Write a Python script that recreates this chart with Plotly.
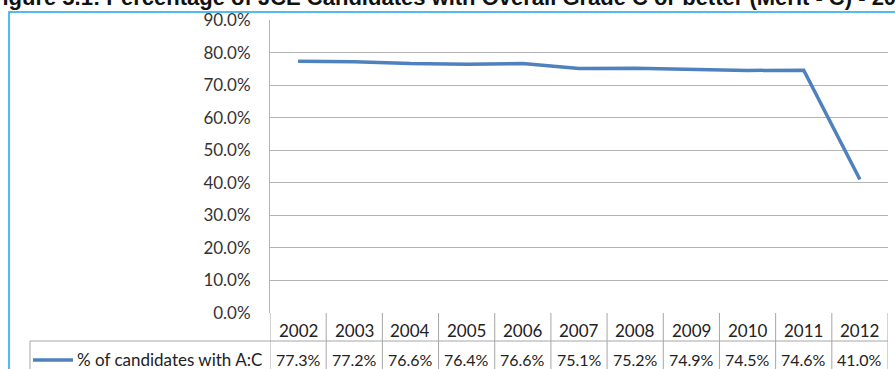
import plotly.graph_objects as go

years = ["2002", "2003", "2004", "2005", "2006", "2007", "2008", "2009", "2010", "2011", "2012"]
pct_values = [77.3, 77.2, 76.6, 76.4, 76.6, 75.1, 75.2, 74.9, 74.5, 74.6, 41.0]
series_name = "% of candidates with A:C"
title_text = "Figure 5.1: Percentage of JCE Candidates with Overall Grade C or better (Merit - C) - 2002-2012"

W, H = 895, 369
L, R, T, B = 270, 888, 20, 313
pw, ph = R - L, B - T

def px(x):
    return (x - L) / pw

def py(y):
    return (B - y) / ph

FONT = "Lato"
FS = 17
GRID = "#B4B4B4"
TBL = "#A6A6A6"
LINE = "#4F81BD"
n = len(years)

fig = go.Figure()
fig.add_trace(go.Scatter(
    x=list(range(n)), y=[v / 100 for v in pct_values], mode="lines",
    line=dict(color=LINE, width=3.5), name=series_name, showlegend=False,
))

shapes = []
for i in range(n + 1):
    shapes.append(dict(type="line", xref="x", yref="paper", x0=i - 0.5, x1=i - 0.5,
                       y0=0, y1=py(380), line=dict(color=TBL, width=1)))
shapes.append(dict(type="line", xref="paper", yref="paper", x0=px(30), x1=1,
                   y0=py(341), y1=py(341), line=dict(color=TBL, width=1)))
shapes.append(dict(type="line", xref="paper", yref="paper", x0=px(30), x1=px(30),
                   y0=py(341), y1=py(380), line=dict(color=TBL, width=1)))
shapes.append(dict(type="line", xref="paper", yref="paper", x0=px(33), x1=px(73),
                   y0=py(360), y1=py(360), line=dict(color=LINE, width=3.5)))
shapes.append(dict(type="rect", xref="paper", yref="paper", x0=px(9), x1=px(920),
                   y0=py(400), y1=py(12), line=dict(color="#1AA7EC", width=1.5),
                   fillcolor="rgba(0,0,0,0)", layer="below"))

annotations = []
for i, (yr, v) in enumerate(zip(years, pct_values)):
    annotations.append(dict(x=i, y=py(330), xref="x", yref="paper", text=yr,
                            showarrow=False, font=dict(family=FONT, size=FS, color="#222"),
                            xanchor="center", yanchor="middle"))
    annotations.append(dict(x=i, y=py(359), xref="x", yref="paper", text=f"{v:.1f}%",
                            showarrow=False, font=dict(family=FONT, size=16, color="#222"),
                            xanchor="center", yanchor="middle"))
annotations.append(dict(x=px(75), y=py(359), xref="paper", yref="paper", text=series_name,
                        showarrow=False, font=dict(family=FONT, size=FS, color="#222"),
                        xanchor="left", yanchor="middle"))
annotations.append(dict(x=px(-13), y=py(12), xref="paper", yref="paper", text="<b>" + title_text + "</b>",
                        showarrow=False, font=dict(family="Liberation Sans", size=22, color="#111"),
                        xanchor="left", yanchor="bottom"))

fig.update_layout(
    width=W, height=H,
    margin=dict(l=L, r=W - R, t=T, b=H - B),
    paper_bgcolor="white", plot_bgcolor="white",
    shapes=shapes, annotations=annotations,
    xaxis=dict(range=[-0.5, n - 0.5], showgrid=False, zeroline=False, showticklabels=False,
               showline=False, fixedrange=True),
    yaxis=dict(range=[0, 0.9], dtick=0.1, tick0=0, tickformat=".1%", showgrid=True,
               gridcolor=GRID, gridwidth=1, zeroline=False, showline=True, linecolor=GRID,
               linewidth=1, ticks="outside", ticklen=0, ticklabelstandoff=15,
               tickfont=dict(family=FONT, size=FS, color="#333")),
    showlegend=False,
)

fig.write_html("out.html")
